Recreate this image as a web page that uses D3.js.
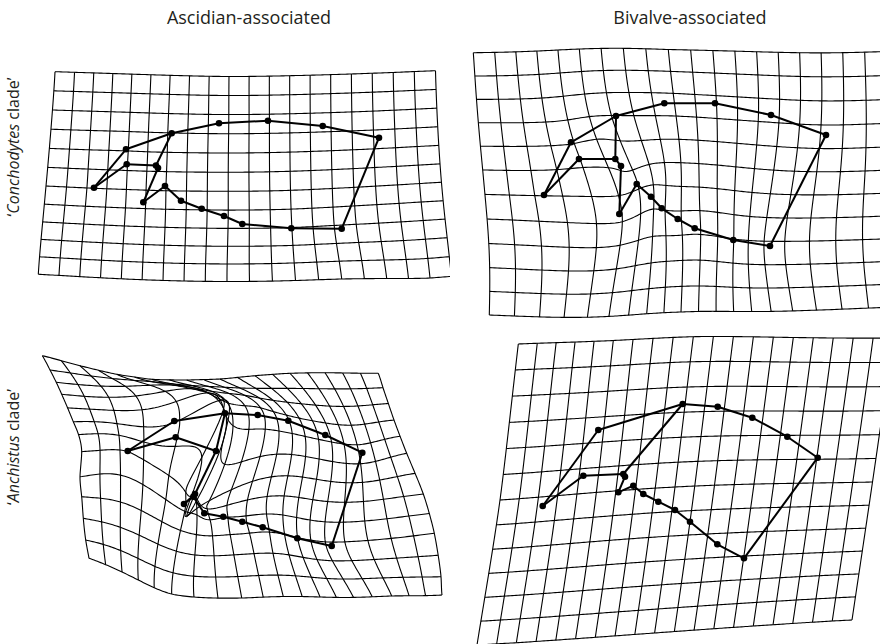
<!DOCTYPE html>
<html>
<head>
<meta charset="utf-8">
<script src="https://cdnjs.cloudflare.com/ajax/libs/d3/7.8.5/d3.min.js"></script>
<style>
  body { margin: 0; background: #fff; }
  text { font-family: "Open Sans", sans-serif; fill: #231f20; }
</style>
</head>
<body>
<svg id="chart" width="880" height="644"></svg>
<script>
// landmark positions inside the undeformed grid (grid-cell units)
var refShape = [
  [2.35, 5.97], [3.88, 3.92], [6.2, 3.02], [8.52, 2.46], [10.93, 2.34], [13.6, 2.69],
  [16.25, 3.42], [14.33, 8.2], [11.97, 8.04], [9.67, 7.76], [8.8, 7.32], [7.74, 6.94],
  [6.74, 6.52], [5.95, 5.75], [4.88, 6.66], [5.56, 4.82], [5.45, 4.69], [3.96, 4.68]
];

// landmark positions as drawn (page pixels)
var conchAscidian = [
  [94, 187.7], [126, 149.3], [171.7, 133.3], [219, 123.3], [268, 120.7], [322.7, 126],
  [379, 137.7], [341.7, 228.7], [291.3, 228.3], [242.3, 224], [224, 216], [201.7, 208.7],
  [181, 200.7], [165, 186], [143.3, 202.3], [158, 168], [156, 165.5], [126.7, 164.3]
];
var conchBivalve = [
  [544, 195], [571, 142.3], [616, 116], [664.3, 103.3], [715, 103.3], [771, 115],
  [826, 135], [770, 246], [733.3, 240], [694.7, 228.3], [677.7, 219], [661.7, 208.3],
  [651, 196.7], [636.7, 184], [619.3, 214], [621, 166], [615.3, 159], [579, 159]
];
var anchAscidian = [
  [127.7, 451], [174.3, 421], [225, 413.3], [257.7, 415], [288.3, 420.7], [325.3, 435],
  [362.3, 452.7], [331.7, 546], [297.3, 538.3], [262.7, 527.3], [242.3, 521.7], [223.3, 516.7],
  [204.3, 513.3], [193.3, 496.7], [184, 504], [195, 494], [216, 451], [175.7, 437.3]
];
var anchBivalve = [
  [542.7, 506], [598.3, 430], [682.7, 404], [717.7, 406.7], [752.3, 417.7], [787.3, 436.7],
  [817.7, 457.7], [744, 558.3], [717.3, 544.3], [690, 521.7], [675, 510], [658.3, 501.7],
  [643.3, 494], [633.3, 485.7], [618.3, 492.3], [625, 476.7], [623.3, 474], [583.3, 475.7]
];

// grid border nodes: [col, row, x, y]
var conchAscidianGrid = [
  [0, 0, 55, 71.7], [9, 0, 229, 76.5], [19, 0, 435.5, 70.7], [0, 6, 46, 186],
  [0, 11, 38.3, 274.3], [9, 11, 227, 281.5], [14, 11, 341.7, 279], [16, 11, 386.7, 278.5],
  [18, 11, 430, 278], [19, 10, 449.3, 256.7]
];
var conchBivalveGrid = [
  [0, 0, 473.3, 52.7], [9, 0, 668.3, 49.5], [19, 0, 887, 51.5],
  [0, 5, 482.7, 170], [0, 11, 489.3, 315], [9, 11, 681, 312],
  [19, 11, 895, 307], [19, 5, 890, 170]
];
var anchAscidianGrid = [
  [0, 0, 42.3, 355.7], [2, 0, 80, 365.7], [4, 0, 116.7, 374.3], [6, 0, 151.7, 379.3], [8, 0, 186.7, 380],
  [10, 0, 220, 379], [12, 0, 255, 375.7], [14, 0, 290, 373.3], [16, 0, 325, 372.7], [19, 0, 378.3, 373.3],
  [0, 1, 50, 370], [0, 3, 61.7, 394.3], [0, 5, 73.3, 421.7], [0, 7, 81.7, 451.7], [0, 8, 80, 476.7],
  [0, 9, 81.7, 496.7], [0, 10, 83.3, 518.3], [0, 11, 85.7, 540], [0, 12, 89, 558.3],
  [19, 1, 383, 387.7], [19, 3, 394, 420], [19, 5, 406.7, 453.3], [19, 7, 423.3, 494], [19, 9, 434.3, 533.3],
  [19, 11, 441, 576.7], [19, 12, 442, 595],
  [3, 12, 138.3, 580], [5, 12, 171.7, 594], [8, 12, 241.7, 598], [12, 12, 320, 597], [16, 12, 391.7, 596]
];
var anchBivalveGrid = [
  [0, 0, 518.3, 344], [5, 0, 613.3, 340.5], [9, 0, 693.3, 336.7], [14, 0, 793.3, 337.5], [19, 0, 893, 338],
  [0, 6, 500, 500], [0, 12, 477, 645], [9, 12, 654.6, 633], [19, 12, 852, 620], [19, 6, 872.5, 482],
  [9, 6, 675, 487]
];

// wireframe links (1-based landmark numbers)
var links = [
  [1, 2], [2, 3], [3, 4], [4, 5], [5, 6], [6, 7], [7, 8], [8, 9], [9, 10], [10, 11],
  [11, 12], [12, 13], [13, 14], [14, 15], [15, 16], [16, 17], [17, 18], [18, 1], [3, 17]
];

var colTitles = ["Ascidian-associated", "Bivalve-associated"];
var rowTitles = [["\u2018", "Conchodytes", " clade\u2019"], ["\u2018", "Anchistus", " clade\u2019"]];

// shapeRow: row offset of the landmarks in that grid (null = landmarks not used as nodes)
var panels = [
  {shape: conchAscidian, shapeRow: 0, nodes: conchAscidianGrid, cols: 20, rows: 12, clip: [0, 30, 450, 295]},
  {shape: conchBivalve, shapeRow: 0, nodes: conchBivalveGrid, cols: 20, rows: 12, clip: [450, 30, 430, 295]},
  {shape: anchAscidian, shapeRow: 1, nodes: anchAscidianGrid, cols: 20, rows: 13, clip: [0, 325, 455, 319]},
  {shape: anchBivalve, shapeRow: null, nodes: anchBivalveGrid, cols: 20, rows: 13, clip: [455, 325, 425, 319]}
];

// thin-plate spline
function gauss(A, b) {
  var n = b.length, M = A.map(function (r, k) { return r.slice().concat([b[k]]); });
  for (var c = 0; c < n; c++) {
    var p = c;
    for (var r = c + 1; r < n; r++) if (Math.abs(M[r][c]) > Math.abs(M[p][c])) p = r;
    var t = M[c]; M[c] = M[p]; M[p] = t;
    for (var r = c + 1; r < n; r++) {
      var f = M[r][c] / M[c][c];
      for (var k = c; k <= n; k++) M[r][k] -= f * M[c][k];
    }
  }
  var x = new Array(n).fill(0);
  for (var r = n - 1; r >= 0; r--) {
    var s = M[r][n];
    for (var k = r + 1; k < n; k++) s -= M[r][k] * x[k];
    x[r] = s / M[r][r];
  }
  return x;
}

function kernel(r2) { return r2 === 0 ? 0 : r2 * Math.log(r2); }

function tps(src, dst) {
  var n = src.length, m = n + 3;
  var A = d3.range(m).map(function () { return new Array(m).fill(0); });
  src.forEach(function (a, i) {
    src.forEach(function (b, j) {
      var dx = a[0] - b[0], dy = a[1] - b[1];
      A[i][j] = kernel(dx * dx + dy * dy);
    });
    A[i][n] = 1; A[i][n + 1] = a[0]; A[i][n + 2] = a[1];
    A[n][i] = 1; A[n + 1][i] = a[0]; A[n + 2][i] = a[1];
  });
  var wx = gauss(A, dst.map(function (d) { return d[0]; }).concat([0, 0, 0]));
  var wy = gauss(A, dst.map(function (d) { return d[1]; }).concat([0, 0, 0]));
  return function (p) {
    var x = wx[n] + wx[n + 1] * p[0] + wx[n + 2] * p[1];
    var y = wy[n] + wy[n + 1] * p[0] + wy[n + 2] * p[1];
    for (var k = 0; k < n; k++) {
      var dx = p[0] - src[k][0], dy = p[1] - src[k][1], u = kernel(dx * dx + dy * dy);
      x += wx[k] * u; y += wy[k] * u;
    }
    return [x, y];
  };
}

var svg = d3.select("#chart");
var line = d3.line();

panels.forEach(function (pn, idx) {
  var src = [], dst = [];
  if (pn.shapeRow !== null) {
    refShape.forEach(function (r, k) { src.push([r[0], r[1] + pn.shapeRow]); dst.push(pn.shape[k]); });
  }
  pn.nodes.forEach(function (d) { src.push([d[0], d[1]]); dst.push([d[2], d[3]]); });
  var warp = tps(src, dst);

  svg.append("clipPath").attr("id", "clip" + idx)
    .append("rect")
    .attr("x", pn.clip[0]).attr("y", pn.clip[1])
    .attr("width", pn.clip[2]).attr("height", pn.clip[3]);
  var g = svg.append("g").attr("clip-path", "url(#clip" + idx + ")");

  var gridLines = [];
  d3.range(pn.rows).forEach(function (j) {
    gridLines.push(d3.range(0, pn.cols - 1 + 1e-9, 0.1).map(function (i) { return warp([i, j]); }));
  });
  d3.range(pn.cols).forEach(function (i) {
    gridLines.push(d3.range(0, pn.rows - 1 + 1e-9, 0.1).map(function (j) { return warp([i, j]); }));
  });
  g.selectAll("path.grid").data(gridLines).enter().append("path")
    .attr("class", "grid")
    .attr("d", line)
    .attr("fill", "none").attr("stroke", "#000").attr("stroke-width", 1.1);

  g.selectAll("line.link").data(links).enter().append("line")
    .attr("x1", function (d) { return pn.shape[d[0] - 1][0]; })
    .attr("y1", function (d) { return pn.shape[d[0] - 1][1]; })
    .attr("x2", function (d) { return pn.shape[d[1] - 1][0]; })
    .attr("y2", function (d) { return pn.shape[d[1] - 1][1]; })
    .attr("stroke", "#000").attr("stroke-width", 2);

  g.selectAll("circle").data(pn.shape).enter().append("circle")
    .attr("cx", function (d) { return d[0]; })
    .attr("cy", function (d) { return d[1]; })
    .attr("r", 3.3).attr("fill", "#000");
});

svg.selectAll("text.col").data(colTitles).enter().append("text")
  .attr("class", "col")
  .attr("x", function (d, i) { return [249, 690][i]; })
  .attr("y", 24)
  .attr("text-anchor", "middle")
  .attr("font-size", 18)
  .text(function (d) { return d; });

rowTitles.forEach(function (parts, i) {
  var t = svg.append("text")
    .attr("transform", "translate(19," + [147, 447][i] + ") rotate(-90)")
    .attr("text-anchor", "middle")
    .attr("font-size", 16);
  parts.forEach(function (s, k) {
    t.append("tspan").attr("font-style", k === 1 ? "italic" : "normal").text(s);
  });
});
</script>
</body>
</html>
